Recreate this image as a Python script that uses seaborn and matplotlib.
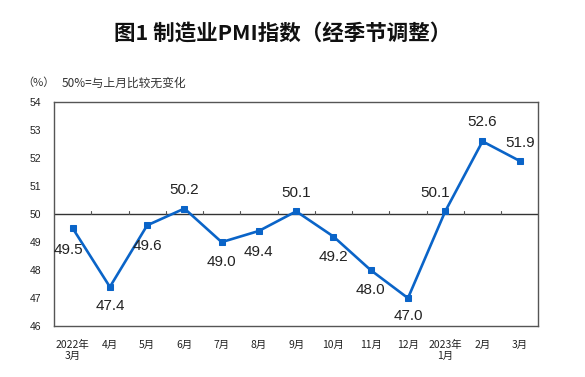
"""
制造业PMI指数（经季节调整）折线图
"""

import matplotlib
matplotlib.use("Agg")
import matplotlib.pyplot as plt
import pandas as pd
import seaborn as sns

months = ["2022年\n3月", "4月", "5月", "6月", "7月", "8月", "9月",
          "10月", "11月", "12月", "2023年\n1月", "2月", "3月"]
pmi = [49.5, 47.4, 49.6, 50.2, 49.0, 49.4, 50.1, 49.2, 48.0, 47.0, 50.1, 52.6, 51.9]
# label placement: offset in points (dx, dy)
label_offsets = [(-3, -16), (0, -14), (0, -15), (0, 13), (0, -14), (0, -15), (0, 13),
                 (0, -15), (0, -14), (0, -13), (-7, 13), (0, 14), (0, 13)]
yticks = [46, 47, 48, 49, 50, 51, 52, 53, 54]

LINE = "#0a64c8"

sns.set_theme(style="white")
plt.rcParams["font.family"] = ["Noto Sans CJK SC", "DejaVu Sans"]

df = pd.DataFrame({"month": months, "pmi": pmi})
df["x"] = range(len(df))

fig = plt.figure(figsize=(5.85, 3.77), dpi=100)
ax = fig.add_axes([0.0923, 0.135, 0.828, 0.594])

sns.lineplot(data=df, x="x", y="pmi", ax=ax, color=LINE, linewidth=1.9,
             marker="s", markersize=4.5, markeredgecolor=LINE)

ax.axhline(50, color="#333333", linewidth=1, zorder=1)
# small tick marks on the 50 line between categories
for k in range(1, len(months)):
    ax.plot([k - 0.5, k - 0.5], [50, 50.12], color="#555555", linewidth=0.8)

for x, v, (dx, dy) in zip(df["x"], df["pmi"], label_offsets):
    ax.annotate(f"{v:.1f}", (x, v), xytext=(dx, dy), textcoords="offset points",
                ha="center", va="center", fontsize=11, color="#222222",
                family=["Liberation Sans", "DejaVu Sans"])

ax.set_xlim(-0.5, len(months) - 0.5)
ax.set_ylim(46, 54)
ax.set_yticks(yticks)
ax.set_yticklabels([str(t) for t in yticks], fontsize=7.5, color="#222222",
                   family=["Liberation Sans", "DejaVu Sans"])
ax.set_xticks(df["x"])
ax.set_xticklabels(months, fontsize=7.5, linespacing=1.15, color="#222222")
ax.tick_params(axis="y", length=0, pad=9)
ax.tick_params(axis="x", length=0, pad=10)
ax.set_xlabel("")
ax.set_ylabel("")
for side in ["left", "bottom", "right", "top"]:
    ax.spines[side].set_color("#555555")
    ax.spines[side].set_linewidth(1)

fig.text(0.483, 0.912, "图1 制造业PMI指数（经季节调整）", ha="center", va="center",
         fontsize=15.5, fontweight="bold", color="#111111")
fig.text(0.065, 0.78, "（%）", ha="center", va="center", fontsize=8, color="#333333")
fig.text(0.106, 0.78, "50%=与上月比较无变化", ha="left", va="center", fontsize=8.5,
         color="#333333")

fig.savefig("out.png", dpi=100)
